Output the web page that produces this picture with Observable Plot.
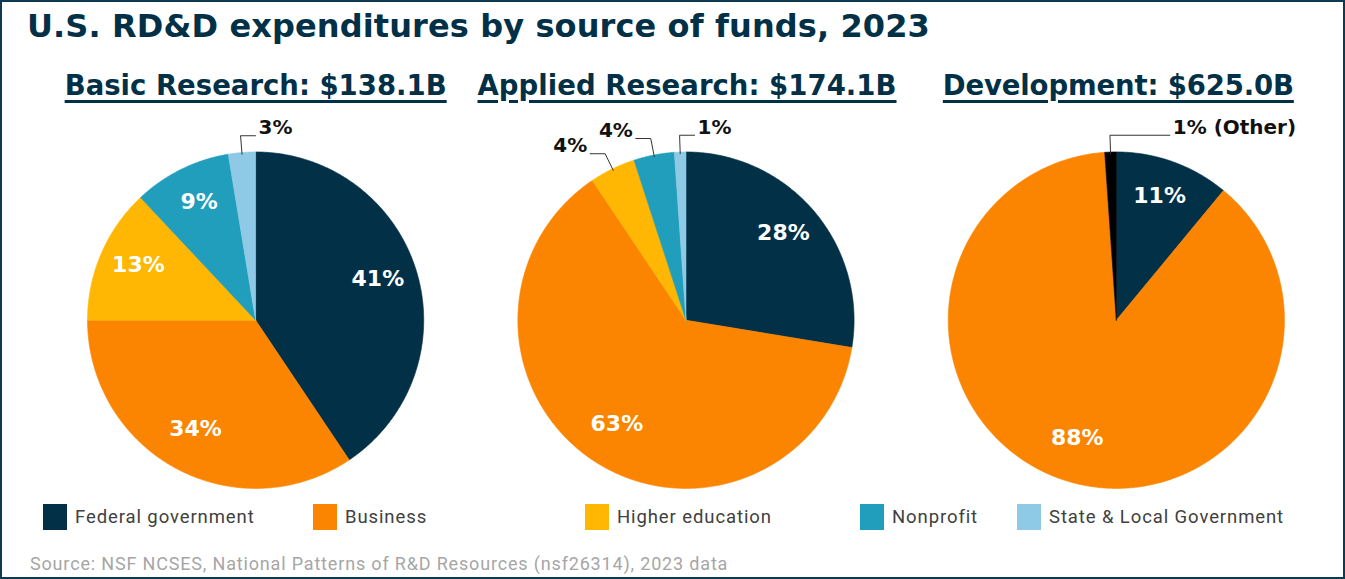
<!DOCTYPE html>
<html><head><meta charset="utf-8">
<script src="https://cdn.jsdelivr.net/npm/d3@7"></script>
<script src="https://cdn.jsdelivr.net/npm/@observablehq/plot@0.6"></script>
<style>
body{margin:0;background:#fff;}
#wrap{position:relative;width:1345px;height:579px;box-sizing:border-box;border:2px solid #0b3a52;overflow:hidden;font-family:Roboto, "Liberation Sans", sans-serif;background:#fff;}
#title{position:absolute;left:25px;top:8px;font-family:"DejaVu Sans",sans-serif;font-size:32px;line-height:1;font-weight:700;color:#023047;white-space:nowrap;}
.ptitle{position:absolute;top:70px;font-family:"DejaVu Sans",sans-serif;font-size:27.5px;line-height:1;font-weight:700;color:#023047;white-space:nowrap;transform:translateX(-50%);text-decoration:underline;text-decoration-thickness:2.5px;text-underline-offset:5px;}
#chart{position:absolute;left:-2px;top:110px;}
.lg{position:absolute;top:502px;height:26px;display:flex;align-items:center;font-size:18.5px;letter-spacing:0.9px;color:#404040;white-space:nowrap;}
.lg i{display:inline-block;width:24px;height:26px;margin-right:8px;}
#source{position:absolute;left:28px;top:551px;font-size:18px;letter-spacing:0.83px;color:#a6a6a6;white-space:nowrap;}
</style></head>
<body>
<div id="wrap">
  <div id="title"></div>
  <div id="ptitles"></div>
  <div id="chart"></div>
  <div id="legend"></div>
  <div id="source"></div>
</div>
<script>
const chartTitle = "U.S. RD&D expenditures by source of funds, 2023";
const sourceNote = "Source: NSF NCSES, National Patterns of R&D Resources (nsf26314), 2023 data";
const pies = ["Basic Research", "Applied Research", "Development"];
const totals = ["$138.1B", "$174.1B", "$625.0B"];
const sources = ["Federal government", "Business", "Higher education", "Nonprofit", "State & Local Government", "Other"];
const colors = ["#023047", "#fb8500", "#ffb703", "#219ebc", "#8ecae6", "#000000"];
const legendSources = ["Federal government", "Business", "Higher education", "Nonprofit", "State & Local Government"];
// shares (%) in order of sources
const basicShares = [40.6, 34.4, 13.0, 9.4, 2.6, 0];
const appliedShares = [27.6, 63.0, 4.4, 3.9, 1.1, 0];
const developmentShares = [11.0, 87.9, 0, 0, 0, 1.1];
const shareTable = [basicShares, appliedShares, developmentShares];

// fit an element's text to a target width via letter-spacing
function fit(el, target) {
  const w = el.getBoundingClientRect().width;
  const n = el.textContent.length;
  el.style.letterSpacing = ((target - w) / n) + "px";
}

const titleEl = document.getElementById("title");
titleEl.textContent = chartTitle;
document.getElementById("source").textContent = sourceNote;

// layout
const mLeft = 39, mRight = 12, W = 1345, H = 388;
const facetW = (W - mLeft - mRight) / 3;
const half = 1.28;
const pxPerUnit = facetW / (2 * half);
const centerFromTop = 208;
const yMax = centerFromTop / pxPerUnit, yMin = yMax - H / pxPerUnit;

const titleWidths = [382, 419, 351];
const pt = document.getElementById("ptitles");
const ptEls = pies.map((p, i) => {
  const d = document.createElement("div");
  d.className = "ptitle";
  d.style.left = (mLeft + (i + 0.5) * facetW - 2 + 1) + "px";
  d.textContent = p + ": " + totals[i];
  pt.appendChild(d);
  return d;
});

const pts = [], inner = [], outer = [], leaders = [];
pies.forEach((pie, i) => {
  const arcs = d3.pie().sort(null).value(d => d)(shareTable[i]);
  arcs.forEach((a, j) => {
    if (!(a.value > 0)) return;
    const key = pie + "|" + sources[j];
    const n = Math.max(2, Math.ceil((a.endAngle - a.startAngle) / 0.01));
    pts.push({pie, key, source: sources[j], x: 0, y: 0});
    for (let k = 0; k <= n; k++) {
      const t = a.startAngle + (a.endAngle - a.startAngle) * k / n;
      pts.push({pie, key, source: sources[j], x: Math.sin(t), y: Math.cos(t)});
    }
    pts.push({pie, key, source: sources[j], x: 0, y: 0});
    const mid = (a.startAngle + a.endAngle) / 2;
    const txt = Math.round(a.value) + "%" + (sources[j] === "Other" ? " (Other)" : "");
    if (a.value >= 5) {
      inner.push({pie, x: Math.sin(mid) * 0.76, y: Math.cos(mid) * 0.76, txt});
    } else {
      const dir = Math.sin(mid) < -0.1 ? -1 : 1;
      const len = (txt.length > 3 ? 60 : 15) / pxPerUnit;
      const ex = Math.sin(mid) * 1.1, ey = Math.cos(mid) * 1.1;
      leaders.push({pie, key, x: Math.sin(mid) * 0.99, y: Math.cos(mid) * 0.99});
      leaders.push({pie, key, x: ex, y: ey});
      leaders.push({pie, key, x: ex + dir * len, y: ey});
      outer.push({pie, x: ex + dir * (len + 3 / pxPerUnit), y: ey, txt, anchor: dir > 0 ? "start" : "end"});
    }
  });
});

const labelFont = {fontSize: 20, fontWeight: 700};
const chart = Plot.plot({
  width: W, height: H,
  marginLeft: mLeft, marginRight: mRight, marginTop: 0, marginBottom: 0,
  x: {domain: [-half, half], axis: null},
  y: {domain: [yMin, yMax], axis: null},
  fx: {domain: pies, padding: 0, axis: null},
  color: {domain: sources, range: colors},
  style: {fontFamily: "'DejaVu Sans', sans-serif", background: "transparent", overflow: "visible"},
  marks: [
    Plot.line(pts, {x: "x", y: "y", fx: "pie", z: "key", fill: "source", stroke: "source", strokeWidth: 0.6, curve: "linear"}),
    Plot.text(inner, {x: "x", y: "y", fx: "pie", text: "txt", fill: "white", dy: -4, fontSize: 22, fontWeight: 700}),
    Plot.line(leaders, {x: "x", y: "y", fx: "pie", z: "key", stroke: "#333", strokeWidth: 1}),
    Plot.text(outer.filter(d => d.anchor === "start"), {x: "x", y: "y", fx: "pie", text: "txt", textAnchor: "start", dy: -8, fill: "#111", ...labelFont}),
    Plot.text(outer.filter(d => d.anchor === "end"), {x: "x", y: "y", fx: "pie", text: "txt", textAnchor: "end", dy: -8, fill: "#111", ...labelFont})
  ]
});
document.getElementById("chart").appendChild(chart);

const legendLeft = [43, 313, 585, 860, 1017];
const lg = document.getElementById("legend");
legendSources.forEach((s, i) => {
  const d = document.createElement("div");
  d.className = "lg";
  d.style.left = (legendLeft[i] - 2) + "px";
  const sw = document.createElement("i");
  sw.style.background = colors[sources.indexOf(s)];
  d.appendChild(sw);
  d.appendChild(document.createTextNode(s));
  lg.appendChild(d);
});

fit(titleEl, 903);
ptEls.forEach((el, i) => fit(el, titleWidths[i]));
</script>
</body></html>
